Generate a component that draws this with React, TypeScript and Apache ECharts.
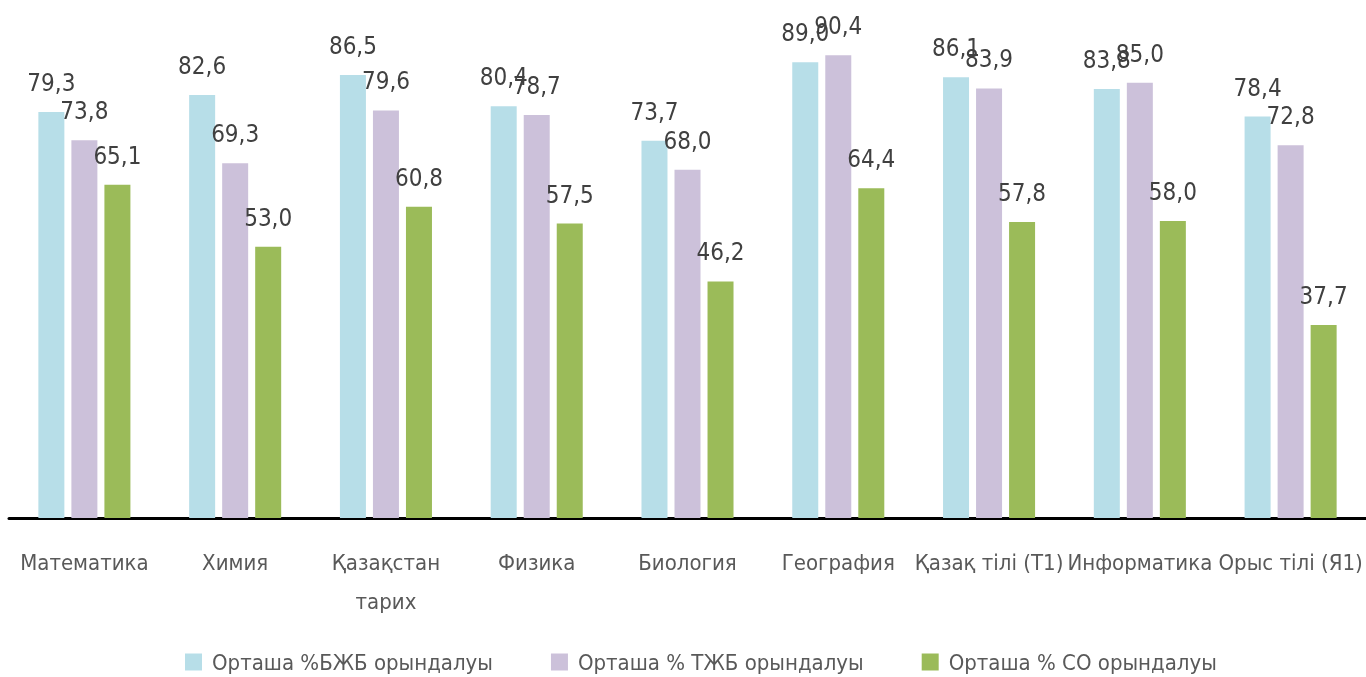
import React, { useEffect, useRef } from "react";
import * as echarts from "echarts";

const categories = [
  "Математика",
  "Химия",
  "Қазақстан\nтарих",
  "Физика",
  "Биология",
  "География",
  "Қазақ тілі (Т1)",
  "Информатика",
  "Орыс тілі (Я1)",
];
const seriesNames = [
  "Орташа %БЖБ орындалуы",
  "Орташа % ТЖБ орындалуы",
  "Орташа % СО орындалуы",
];
const bjbValues = [79.3, 82.6, 86.5, 80.4, 73.7, 89.0, 86.1, 83.8, 78.4];
const tjbValues = [73.8, 69.3, 79.6, 78.7, 68.0, 90.4, 83.9, 85.0, 72.8];
const soValues = [65.1, 53.0, 60.8, 57.5, 46.2, 64.4, 57.8, 58.0, 37.7];
const colors = ["#B7DEE8", "#CCC1DA", "#9BBB59"];

const FONT = "'Liberation Sans Narrow', 'DejaVu Sans Condensed', 'Roboto Condensed', sans-serif";

export default function App() {
  const ref = useRef<HTMLDivElement>(null);
  useEffect(() => {
    document.body.style.margin = "0";
    const chart = echarts.init(ref.current!, null, { renderer: "svg" });
    const values = [bjbValues, tjbValues, soValues];
    chart.setOption({
      animation: false,
      textStyle: { fontFamily: FONT },
      grid: { left: 9, right: 0, top: 6, bottom: 159, containLabel: false },
      legend: {
        top: 646,
        left: 180,
        itemWidth: 17,
        itemHeight: 17,
        itemGap: 58,
        icon: "rect",
        textStyle: { fontSize: 22, color: "#595959", fontFamily: FONT, padding: [0, 0, 0, 5] },
        data: seriesNames,
      },
      xAxis: {
        type: "category",
        data: categories,
        axisLine: { show: true, lineStyle: { color: "#000", width: 3 } },
        axisTick: { show: false },
        axisLabel: {
          fontSize: 22,
          color: "#595959",
          margin: 25,
          lineHeight: 39,
          fontFamily: FONT,
          interval: 0,
        },
      },
      yAxis: {
        type: "value",
        min: 0,
        max: 100,
        show: false,
        splitLine: { show: false },
      },
      series: seriesNames.map((name, i) => ({
        name,
        type: "bar",
        data: values[i],
        barWidth: 26,
        barGap: "27%",
        barCategoryGap: "39%",
        itemStyle: { color: colors[i] },
        label: {
          show: true,
          position: "top",
          distance: 17,
          fontSize: 24,
          color: "#404040",
          fontFamily: FONT,
          formatter: (p: any) => p.value.toFixed(1).replace(".", ","),
        },
      })),
    });
    return () => chart.dispose();
  }, []);
  return (
    <div
      ref={ref}
      style={{ position: "fixed", left: 0, top: 0, width: 1366, height: 677 }}
    />
  );
}
